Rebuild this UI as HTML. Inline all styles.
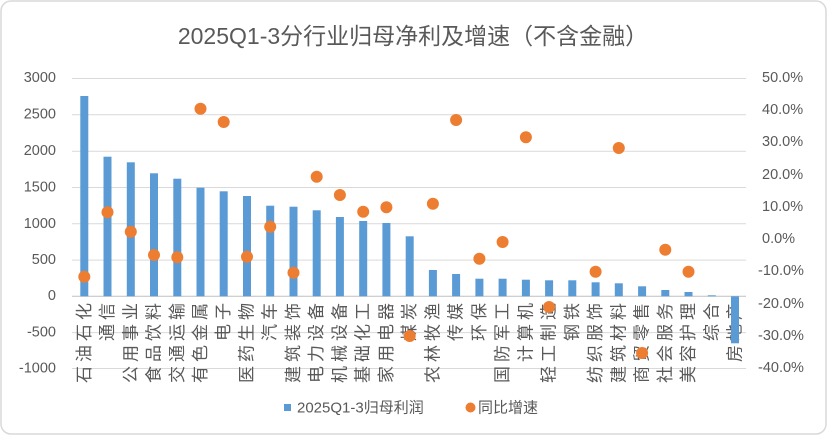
<!DOCTYPE html>
<html><head><meta charset="utf-8"><style>
html,body{margin:0;padding:0;background:#fff}
svg{display:block;font-family:"Liberation Sans","Noto Sans CJK SC",sans-serif}
</style></head><body>
<svg width="827" height="438" viewBox="0 0 827 438" xmlns="http://www.w3.org/2000/svg">
<rect x="1" y="1" width="825" height="433" rx="10" fill="#fff" stroke="#d9d9d9" stroke-width="1.5"/>
<text x="413" y="44" font-size="23" fill="#595959" text-anchor="middle">2025Q1-3分行业归母净利及增速（不含金融）</text>
<g stroke="#d9d9d9" stroke-width="1">
<line x1="72" x2="746" y1="78.5" y2="78.5"/><line x1="72" x2="746" y1="114.8" y2="114.8"/>
<line x1="72" x2="746" y1="151.2" y2="151.2"/><line x1="72" x2="746" y1="187.5" y2="187.5"/>
<line x1="72" x2="746" y1="223.8" y2="223.8"/><line x1="72" x2="746" y1="260.1" y2="260.1"/>
<line x1="72" x2="746" y1="332.6" y2="332.6"/><line x1="72" x2="746" y1="368.5" y2="368.5"/>
</g>
<line x1="72" x2="746" y1="296.3" y2="296.3" stroke="#bfbfbf" stroke-width="1"/>
<g font-size="14.5" fill="#595959" text-anchor="end" dominant-baseline="central">
<text x="56" y="78">3000</text><text x="56" y="114.5">2500</text><text x="56" y="151">2000</text><text x="56" y="187.5">1500</text><text x="56" y="224">1000</text><text x="56" y="260">500</text><text x="56" y="296">0</text><text x="56" y="332.5">-500</text><text x="56" y="368.5">-1000</text>
</g>
<g font-size="14.5" fill="#595959" dominant-baseline="central">
<text x="762" y="78">50.0%</text><text x="762" y="110">40.0%</text><text x="762" y="142">30.0%</text><text x="762" y="175">20.0%</text><text x="762" y="207">10.0%</text><text x="762" y="239">0.0%</text><text x="758" y="271">-10.0%</text><text x="758" y="304">-20.0%</text><text x="758" y="336">-30.0%</text><text x="758" y="368">-40.0%</text>
</g>
<g font-size="17" fill="#595959" text-anchor="end" dominant-baseline="central" letter-spacing="4">
<text transform="translate(84.3,299) rotate(-90)">石油石化</text>
<text transform="translate(107.5,299) rotate(-90)">通信</text>
<text transform="translate(130.8,299) rotate(-90)">公用事业</text>
<text transform="translate(154,299) rotate(-90)">食品饮料</text>
<text transform="translate(177.3,299) rotate(-90)">交通运输</text>
<text transform="translate(200.5,299) rotate(-90)">有色金属</text>
<text transform="translate(223.7,299) rotate(-90)">电子</text>
<text transform="translate(247,299) rotate(-90)">医药生物</text>
<text transform="translate(270.2,299) rotate(-90)">汽车</text>
<text transform="translate(293.5,299) rotate(-90)">建筑装饰</text>
<text transform="translate(316.7,299) rotate(-90)">电力设备</text>
<text transform="translate(339.9,299) rotate(-90)">机械设备</text>
<text transform="translate(363.2,299) rotate(-90)">基础化工</text>
<text transform="translate(386.4,299) rotate(-90)">家用电器</text>
<text transform="translate(409.7,299) rotate(-90)">煤炭</text>
<text transform="translate(432.9,299) rotate(-90)">农林牧渔</text>
<text transform="translate(456.1,299) rotate(-90)">传媒</text>
<text transform="translate(479.4,299) rotate(-90)">环保</text>
<text transform="translate(502.6,299) rotate(-90)">国防军工</text>
<text transform="translate(525.9,299) rotate(-90)">计算机</text>
<text transform="translate(549.1,299) rotate(-90)">轻工制造</text>
<text transform="translate(572.3,299) rotate(-90)">钢铁</text>
<text transform="translate(595.6,299) rotate(-90)">纺织服饰</text>
<text transform="translate(618.8,299) rotate(-90)">建筑材料</text>
<text transform="translate(642.1,299) rotate(-90)">商贸零售</text>
<text transform="translate(665.3,299) rotate(-90)">社会服务</text>
<text transform="translate(688.5,299) rotate(-90)">美容护理</text>
<text transform="translate(711.8,299) rotate(-90)">综合</text>
<text transform="translate(735,299) rotate(-90)">房地产</text>
</g>
<g fill="#5b9bd5">
<rect x="80.3" y="96" width="8" height="200.3"/>
<rect x="103.5" y="156.7" width="8" height="139.6"/>
<rect x="126.8" y="162.3" width="8" height="134"/>
<rect x="150" y="173.3" width="8" height="123"/>
<rect x="173.3" y="178.7" width="8" height="117.6"/>
<rect x="196.5" y="187.7" width="8" height="108.6"/>
<rect x="219.7" y="191.3" width="8" height="105"/>
<rect x="243" y="196" width="8" height="100.3"/>
<rect x="266.2" y="205.7" width="8" height="90.6"/>
<rect x="289.5" y="206.7" width="8" height="89.6"/>
<rect x="312.7" y="210.3" width="8" height="86"/>
<rect x="335.9" y="217" width="8" height="79.3"/>
<rect x="359.2" y="221" width="8" height="75.3"/>
<rect x="382.4" y="223" width="8" height="73.3"/>
<rect x="405.7" y="236.3" width="8" height="60"/>
<rect x="428.9" y="270" width="8" height="26.3"/>
<rect x="452.1" y="274" width="8" height="22.3"/>
<rect x="475.4" y="278.7" width="8" height="17.6"/>
<rect x="498.6" y="278.7" width="8" height="17.6"/>
<rect x="521.9" y="279.7" width="8" height="16.6"/>
<rect x="545.1" y="280.3" width="8" height="16"/>
<rect x="568.3" y="280.3" width="8" height="16"/>
<rect x="591.6" y="282.3" width="8" height="14"/>
<rect x="614.8" y="283.3" width="8" height="13"/>
<rect x="638.1" y="286.3" width="8" height="10"/>
<rect x="661.3" y="290" width="8" height="6.3"/>
<rect x="684.5" y="292" width="8" height="4.3"/>
<rect x="707.8" y="295.3" width="8" height="1"/>
<rect x="731" y="296.3" width="8" height="47"/>
</g>
<g fill="#ed7d31">
<circle cx="84.3" cy="276.7" r="6"/><circle cx="107.5" cy="212.3" r="6"/><circle cx="130.8" cy="231.7" r="6"/>
<circle cx="154" cy="255" r="6"/><circle cx="177.3" cy="257.3" r="6"/><circle cx="200.5" cy="108.7" r="6"/>
<circle cx="223.7" cy="122" r="6"/><circle cx="247" cy="256.7" r="6"/><circle cx="270.2" cy="226.7" r="6"/>
<circle cx="293.5" cy="272.7" r="6"/><circle cx="316.7" cy="176.7" r="6"/><circle cx="339.9" cy="195" r="6"/>
<circle cx="363.2" cy="211.7" r="6"/><circle cx="386.4" cy="207.3" r="6"/><circle cx="409.7" cy="336" r="6"/>
<circle cx="432.9" cy="203.7" r="6"/><circle cx="456.1" cy="120" r="6"/><circle cx="479.4" cy="258.7" r="6"/>
<circle cx="502.6" cy="242" r="6"/><circle cx="525.9" cy="137.3" r="6"/><circle cx="549.1" cy="307" r="6"/>
<circle cx="595.6" cy="271.7" r="6"/><circle cx="618.8" cy="148" r="6"/><circle cx="642.1" cy="353" r="6"/>
<circle cx="665.3" cy="249.7" r="6"/><circle cx="688.5" cy="271.7" r="6"/>
</g>
<rect x="284" y="404" width="7" height="7" fill="#5b9bd5"/>
<text x="297" y="408" font-size="15" fill="#595959" dominant-baseline="central">2025Q1-3归母利润</text>
<circle cx="470.5" cy="407.5" r="5" fill="#ed7d31"/>
<text x="478" y="408" font-size="15" fill="#595959" dominant-baseline="central">同比增速</text>
</svg>
</body></html>
